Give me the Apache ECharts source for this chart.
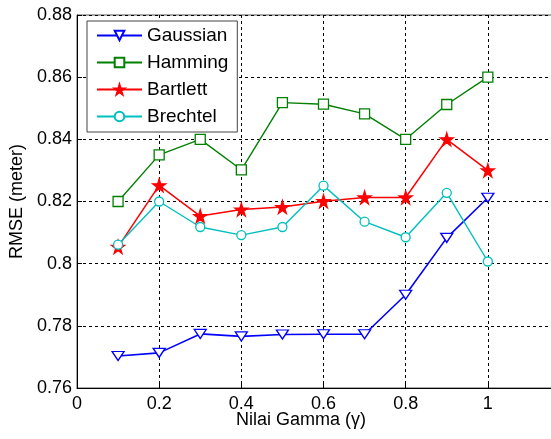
<!DOCTYPE html>
<html><head><meta charset="utf-8">
<script src="https://cdn.jsdelivr.net/npm/echarts@6/dist/echarts.min.js"></script>
<style>html,body{margin:0;padding:0;background:#fff}#c{width:551px;height:439px}</style>
</head><body><div id="c"></div>
<script>
const gammaValues = [0.1, 0.2, 0.3, 0.4, 0.5, 0.6, 0.7, 0.8, 0.9, 1.0];
const gaussian = [0.7703, 0.7713, 0.7774, 0.7766, 0.7772, 0.7773, 0.7773, 0.7900, 0.8083, 0.8212];
const hamming  = [0.8200, 0.8350, 0.8400, 0.8302, 0.8518, 0.8513, 0.8482, 0.8400, 0.8512, 0.8600];
const bartlett = [0.8054, 0.8252, 0.8153, 0.8174, 0.8182, 0.8201, 0.8213, 0.8213, 0.8400, 0.8300];
const brechtel = [0.8061, 0.8200, 0.8118, 0.8092, 0.8118, 0.8251, 0.8135, 0.8085, 0.8228, 0.8007];
const seriesNames = ['Gaussian', 'Hamming', 'Bartlett', 'Brechtel'];
const xTitle = 'Nilai Gamma (\u03b3)';
const yTitle = 'RMSE (meter)';

const FONT = 'Liberation Sans, Arial, sans-serif';
const fmt = v => String(parseFloat(Number(v).toFixed(2)));
const pair = arr => gammaValues.map((x, i) => [x, arr[i]]);

const triDown = 'path://M0,0 L12,0 L6,9 Z';
const star = 'path://M50,0 L61,35 L98,35 L68,57 L79,91 L50,70 L21,91 L32,57 L2,35 L39,35 Z';

function mk(name, data, color, symbol, size, fill, lw) {
  return {
    name, type: 'line', data: pair(data),
    symbol, symbolSize: size, showSymbol: true,
    lineStyle: { color, width: lw },
    itemStyle: { color: fill, borderColor: color, borderWidth: 1.3 },
    emphasis: { disabled: true },
    animation: false
  };
}

const chart = echarts.init(document.getElementById('c'), null, { renderer: 'canvas' });
chart.setOption({
  animation: false,
  backgroundColor: '#fff',
  textStyle: { fontFamily: FONT },
  grid: { left: 77, top: 15, width: 493, height: 373, show: true, borderColor: '#555', borderWidth: 1,
          containLabel: false, outerBoundsMode: 'none' },
  legend: {
    orient: 'vertical', left: 87, top: 21,
    backgroundColor: '#fff', borderColor: '#444', borderWidth: 1,
    padding: [5, 9, 6, 9], itemGap: 8, itemWidth: 45, itemHeight: 12,
    textStyle: { fontSize: 19, color: '#000', fontFamily: FONT },
    data: seriesNames
  },
  xAxis: {
    type: 'value', min: 0, max: 1.2, interval: 0.2,
    axisLine: { show: true, lineStyle: { color: '#000', width: 1 } },
    axisTick: { show: true, inside: true, length: 5, lineStyle: { color: '#000' } },
    axisLabel: { formatter: fmt, fontSize: 18, color: '#000', margin: 7, fontFamily: FONT },
    splitLine: { show: true, lineStyle: { color: '#000', type: [3, 3], width: 1 } }
  },
  yAxis: {
    type: 'value', min: 0.76, max: 0.88, interval: 0.02,
    name: yTitle, nameLocation: 'middle', nameGap: 50,
    nameTextStyle: { fontSize: 18, color: '#000', fontFamily: FONT },
    axisLine: { show: true, lineStyle: { color: '#000', width: 1 } },
    axisTick: { show: true, inside: true, length: 5, lineStyle: { color: '#000' } },
    axisLabel: { formatter: fmt, fontSize: 18, color: '#000', margin: 5, fontFamily: FONT },
    splitLine: { show: true, lineStyle: { color: '#000', type: [3, 3], width: 1 } }
  },
  graphic: [{
    type: 'text', left: 236, top: 411,
    style: { text: xTitle, fontSize: 18, fill: '#000', fontFamily: FONT }
  }],
  series: [
    mk(seriesNames[0], gaussian, '#0000ff', triDown, [12, 9], '#fff', 1.6),
    mk(seriesNames[1], hamming, '#008000', 'rect', 10, '#fff', 1.4),
    mk(seriesNames[2], bartlett, '#ff0000', star, 13, '#ff0000', 1.5),
    mk(seriesNames[3], brechtel, '#00bfbf', 'circle', 9, '#fff', 1.4)
  ]
});
</script></body></html>
